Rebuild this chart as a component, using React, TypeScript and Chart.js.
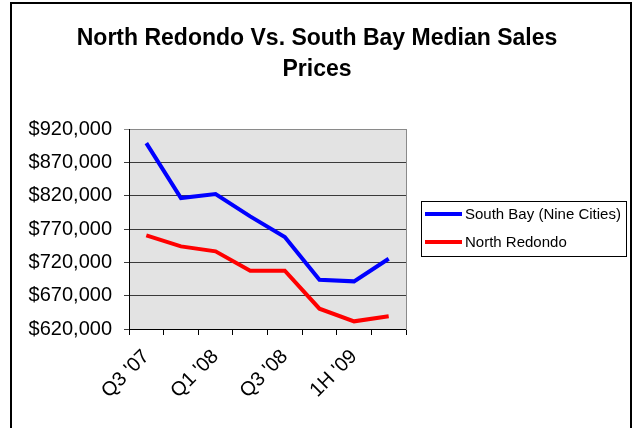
import React, { useEffect, useRef } from "react";
import { Chart, registerables } from "chart.js";

Chart.register(...registerables);

const categories = ["Q3 '07", "Q4 '07", "Q1 '08", "Q2 '08", "Q3 '08", "Q4 '08", "1H '09", "Q3 '09"];
const southBay = [899000, 816500, 822500, 789000, 758000, 694000, 691500, 725500];
const northRedondo = [760500, 744000, 736500, 707500, 707500, 650500, 631500, 639000];
const titleLines = ["North Redondo Vs. South Bay Median Sales", "Prices"];
const seriesNames = ["South Bay (Nine Cities)", "North Redondo"];
const seriesColors = ["#0000ff", "#ff0000"];
const yMin = 620000;
const yMax = 920000;
const yStep = 50000;

const FONT = "'Liberation Sans', Arial, sans-serif";

const bgPlugin = {
  id: "plotBg",
  beforeDraw(chart: any) {
    const { ctx, chartArea } = chart;
    ctx.save();
    ctx.fillStyle = "#e3e3e3";
    ctx.fillRect(chartArea.left, chartArea.top, chartArea.right - chartArea.left, chartArea.bottom - chartArea.top);
    ctx.restore();
  },
};

const legendPlugin = {
  id: "boxLegend",
  afterDraw(chart: any) {
    const { ctx, chartArea } = chart;
    const x = chartArea.right + 15;
    const y = 201;
    const w = 205;
    const h = 55;
    ctx.save();
    ctx.fillStyle = "#ffffff";
    ctx.fillRect(x, y, w, h);
    ctx.strokeStyle = "#000000";
    ctx.lineWidth = 1;
    ctx.strokeRect(x + 0.5, y + 0.5, w, h);
    chart.data.datasets.forEach((ds: any, i: number) => {
      const ly = y + 13 + i * 28;
      ctx.strokeStyle = ds.borderColor;
      ctx.lineWidth = 4;
      ctx.beginPath();
      ctx.moveTo(x + 4, ly);
      ctx.lineTo(x + 41, ly);
      ctx.stroke();
      ctx.fillStyle = "#000000";
      ctx.font = `15px ${FONT}`;
      ctx.textBaseline = "middle";
      ctx.textAlign = "left";
      ctx.fillText(ds.label, x + 44, ly + 1);
    });
    ctx.restore();
  },
};

export default function App() {
  const ref = useRef<HTMLCanvasElement | null>(null);
  useEffect(() => {
    if (!ref.current) return;
    const chart = new Chart(ref.current, {
      type: "line",
      data: {
        labels: categories,
        datasets: [
          {
            label: seriesNames[0],
            data: southBay,
            borderColor: seriesColors[0],
            backgroundColor: seriesColors[0],
            borderWidth: 4,
            pointRadius: 0,
            tension: 0,
          },
          {
            label: seriesNames[1],
            data: northRedondo,
            borderColor: seriesColors[1],
            backgroundColor: seriesColors[1],
            borderWidth: 4,
            pointRadius: 0,
            tension: 0,
          },
        ],
      },
      options: {
        responsive: false,
        animation: false,
        layout: { padding: { left: 0, top: 23, right: 0, bottom: 0 } },
        plugins: {
          legend: { display: false },
          tooltip: { enabled: false },
          title: {
            display: true,
            text: titleLines,
            color: "#000000",
            font: { family: FONT, size: 23, weight: "bold", lineHeight: 1.35 },
            padding: { top: 0, bottom: 44 },
          },
        },
        scales: {
          x: {
            type: "category",
            offset: true,
            grid: {
              display: true,
              offset: true,
              drawOnChartArea: false,
              drawTicks: true,
              tickLength: 6,
              color: "#000000",
            },
            border: { display: true, color: "#000000", width: 1 },
            ticks: {
              autoSkip: false,
              maxRotation: 45,
              minRotation: 45,
              color: "#000000",
              padding: 10,
              font: { family: FONT, size: 20 },
              callback: (_v: any, i: number) => (i % 2 === 0 ? categories[i] : ""),
            },
            afterFit: (s: any) => {
              s.height = 99;
            },
          },
          y: {
            min: yMin,
            max: yMax,
            position: "left",
            grid: {
              color: (c: any) => (c.tick && c.tick.value === yMax ? "#8a8a8a" : "#3a3a3a"),
              lineWidth: 1,
              tickLength: 5,
              drawTicks: true,
            },
            border: { display: true, color: "#000000", width: 1 },
            ticks: {
              stepSize: yStep,
              color: "#000000",
              padding: 12,
              font: { family: FONT, size: 20 },
              callback: (v: any) => "$" + Number(v).toLocaleString("en-US"),
            },
            afterFit: (s: any) => {
              s.width = 129;
            },
          },
          y2: {
            position: "right",
            display: true,
            min: 0,
            max: 1,
            grid: { drawOnChartArea: false, drawTicks: false },
            ticks: { display: false },
            border: { display: true, color: "#8a8a8a", width: 1 },
            afterFit: (s: any) => {
              s.width = 228;
            },
          },
        },
      },
      plugins: [bgPlugin, legendPlugin],
    });
    return () => chart.destroy();
  }, []);

  return (
    <div
      style={{
        position: "absolute",
        left: 0,
        top: 0,
        width: 634,
        height: 428,
        overflow: "hidden",
        background: "#ffffff",
      }}
    >
      <div
        style={{
          position: "absolute",
          left: 10,
          top: 2,
          width: 622,
          height: 480,
          boxSizing: "border-box",
          border: "2px solid #000000",
        }}
      />
      <canvas ref={ref} width={634} height={428} style={{ position: "absolute", left: 0, top: 0 }} />
    </div>
  );
}
